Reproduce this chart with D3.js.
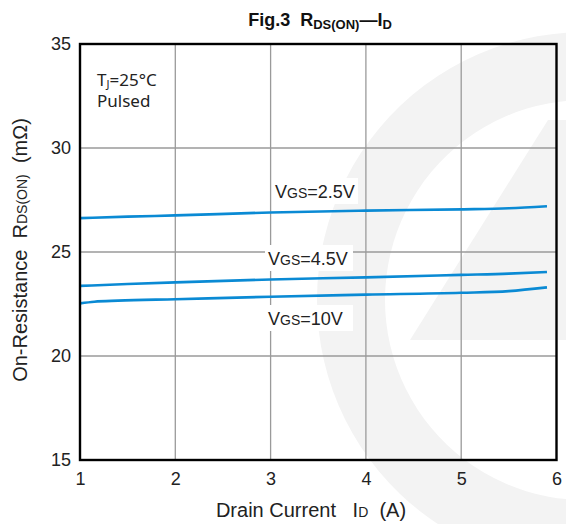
<!DOCTYPE html>
<html>
<head>
<meta charset="utf-8">
<script src="https://cdn.jsdelivr.net/npm/d3@7"></script>
<style>
  body { margin: 0; background: #fff; }
  svg { display: block; font-family: "Liberation Sans", Arial, sans-serif; }
</style>
</head>
<body>
<svg id="chart"></svg>
<script>
// data
const xTicks = [1, 2, 3, 4, 5, 6];
const yTicks = [15, 20, 25, 30, 35];

const id25 = [1, 1.5, 2, 3, 4, 5, 5.5, 5.9];
const r25 = [26.63, 26.70, 26.76, 26.90, 26.99, 27.05, 27.10, 27.20];

const id45 = [1, 1.5, 2, 3, 4, 5, 5.5, 5.9];
const r45 = [23.37, 23.46, 23.54, 23.68, 23.78, 23.90, 23.96, 24.04];

const id10 = [1, 1.15, 1.4, 2, 3, 4, 5, 5.5, 5.9];
const r10 = [22.53, 22.61, 22.66, 22.73, 22.85, 22.95, 23.04, 23.12, 23.30];

const seriesNames = ["2.5V", "4.5V", "10V"];

const width = 566, height = 524;
const margin = { left: 80, right: 9, top: 44, bottom: 64 };

const svg = d3.select("#chart").attr("width", width).attr("height", height);

// faint logo watermark in the background
const wm = svg.append("g").attr("fill", "#f3f3f3");
wm.append("path")
  .attr("d", d3.arc().innerRadius(200).outerRadius(268).startAngle(-Math.PI * 1.2).endAngle(-Math.PI * 0.02)())
  .attr("transform", "translate(585,300)");
wm.append("polygon").attr("points", "410,340 566,340 566,120 548,120");

const x = d3.scaleLinear().domain([1, 6]).range([margin.left, width - margin.right - 0.5]);
const y = d3.scaleLinear().domain([15, 35]).range([height - margin.bottom, margin.top]);

// grid
const grid = svg.append("g").attr("stroke", "#9a9a9a").attr("stroke-width", 1.3);
grid.selectAll(".vx").data(xTicks.slice(1, -1)).enter().append("line")
  .attr("x1", d => x(d)).attr("x2", d => x(d))
  .attr("y1", y(15)).attr("y2", y(35));
grid.selectAll(".hy").data(yTicks.slice(1, -1)).enter().append("line")
  .attr("x1", x(1)).attr("x2", x(6))
  .attr("y1", d => y(d)).attr("y2", d => y(d));

// axes (labels only, frame drawn separately)
const xAxis = svg.append("g")
  .attr("transform", `translate(0,${y(15)})`)
  .call(d3.axisBottom(x).tickValues(xTicks).tickSize(0).tickPadding(12).tickFormat(d3.format("d")));
const yAxis = svg.append("g")
  .attr("transform", `translate(${x(1)},0)`)
  .call(d3.axisLeft(y).tickValues(yTicks).tickSize(0).tickPadding(9).tickFormat(d3.format("d")));
[xAxis, yAxis].forEach(a => {
  a.select(".domain").remove();
  a.selectAll("text").attr("font-size", 18).attr("fill", "#222")
    .attr("font-family", "'Liberation Sans', Arial, sans-serif");
});

// curves
const line = d3.line().x(d => x(d[0])).y(d => y(d[1])).curve(d3.curveMonotoneX);
const series = [
  d3.zip(id25, r25),
  d3.zip(id45, r45),
  d3.zip(id10, r10)
];
svg.append("g").selectAll("path").data(series).enter().append("path")
  .attr("d", line)
  .attr("fill", "none")
  .attr("stroke", "#0a8ad4")
  .attr("stroke-width", 2.6);

// curve labels with white boxes
const labelPos = [
  { x: 275, y: 198, w: 86 },
  { x: 268, y: 265, w: 88 },
  { x: 268, y: 325, w: 88 }
];
const lab = svg.append("g").selectAll("g").data(seriesNames).enter().append("g");
lab.append("rect")
  .attr("x", (d, i) => labelPos[i].x - 3)
  .attr("y", (d, i) => labelPos[i].y - 20)
  .attr("width", (d, i) => labelPos[i].w)
  .attr("height", 26)
  .attr("fill", "#fff");
const lt = lab.append("text")
  .attr("x", (d, i) => labelPos[i].x)
  .attr("y", (d, i) => labelPos[i].y)
  .attr("font-size", 18).attr("fill", "#222");
lt.append("tspan").text("V");
lt.append("tspan").attr("font-size", 14).text("GS");
lt.append("tspan").text(d => "=" + d);

// frame
svg.append("rect")
  .attr("x", x(1)).attr("y", y(35))
  .attr("width", x(6) - x(1)).attr("height", y(15) - y(35))
  .attr("fill", "none").attr("stroke", "#000").attr("stroke-width", 2.4);

// conditions
const cond = svg.append("g").attr("font-family", "'Noto Sans', 'Open Sans', sans-serif")
  .attr("font-size", 17).attr("fill", "#222");
const tj = cond.append("text").attr("x", 97).attr("y", 86);
tj.append("tspan").text("T");
tj.append("tspan").attr("font-size", 11).attr("dy", 2).text("J");
tj.append("tspan").attr("dy", -2).text("=25°C");
cond.append("text").attr("x", 97).attr("y", 107).text("Pulsed");

// title
const title = svg.append("text").attr("x", 320).attr("y", 26)
  .attr("text-anchor", "middle").attr("font-weight", "bold").attr("font-size", 18).attr("fill", "#111")
  .attr("xml:space", "preserve");
title.append("tspan").text("Fig.3  R");
title.append("tspan").attr("font-size", 13).attr("dy", 3).text("DS(ON)");
title.append("tspan").attr("dy", -3).text("—I");
title.append("tspan").attr("font-size", 13).attr("dy", 3).text("D");

// x axis title
const xt = svg.append("text").attr("x", 311).attr("y", 517)
  .attr("text-anchor", "middle").attr("font-size", 20).attr("fill", "#222")
  .attr("xml:space", "preserve");
xt.append("tspan").text("Drain Current   I");
xt.append("tspan").attr("font-size", 14).text("D");
xt.append("tspan").text("  (A)");

// y axis title
const yt = svg.append("text")
  .attr("transform", "translate(27,250) rotate(-90)")
  .attr("text-anchor", "middle").attr("font-size", 20).attr("fill", "#222")
  .attr("xml:space", "preserve");
yt.append("tspan").text("On-Resistance  R");
yt.append("tspan").attr("font-size", 14).text("DS(ON)");
yt.append("tspan").text("  (mΩ)");
</script>
</body>
</html>
